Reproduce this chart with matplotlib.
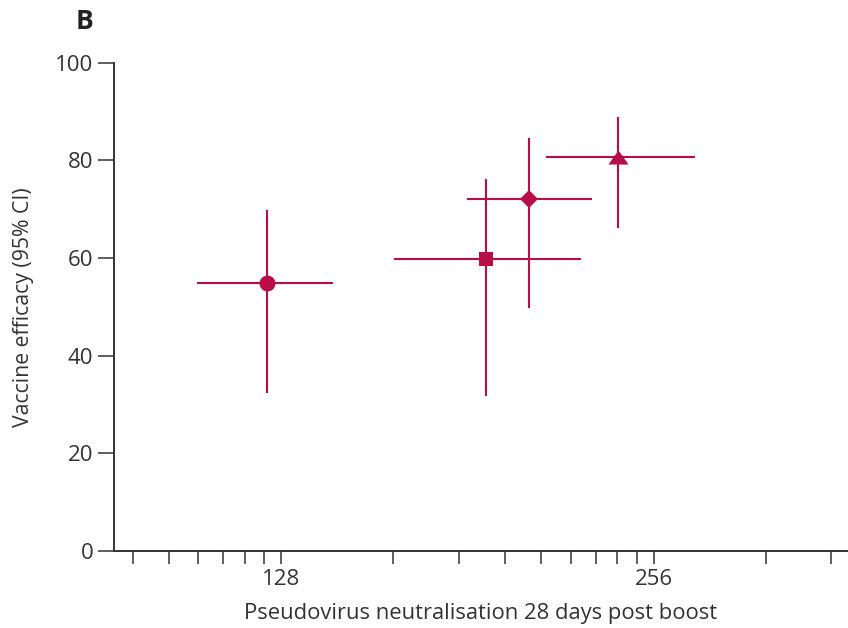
import numpy as np
import matplotlib
matplotlib.use('Agg')
import matplotlib.pyplot as plt
from matplotlib.ticker import FixedLocator, FixedFormatter, NullLocator

# Data
titre = [124.6, 187.6, 203.0, 239.6]
titre_lo = [109.4, 157.8, 180.9, 209.6]
titre_hi = [141.1, 223.5, 228.3, 276.3]
efficacy = [54.8, 59.7, 72.1, 80.7]
eff_lo = [32.4, 31.8, 49.7, 66.1]
eff_hi = [69.8, 76.2, 84.6, 88.9]

y_ticks = [0, 20, 40, 60, 80, 100]
x_tick_labels = {128: "128", 256: "256"}

color = '#B90E45'
axis_color = '#333333'
text_color = '#333333'
font = 'Open Sans'

plt.rcParams['font.family'] = [font, 'DejaVu Sans']

fig = plt.figure(figsize=(8.48, 6.28), dpi=100)
ax = fig.add_axes([114/848, 1 - 550.7/628, (848 - 114)/848, (550.7 - 62.7)/628])

tri = [(-1, -0.7), (1, -0.7), (0, 0.7), (-1, -0.7)]
marker_specs = [('o', 11.5), ('s', 10.5), ('D', 9.2), (tri, 14.5)]

ax.set_xscale('log', base=2)
ax.set_xlim(93.8, 367.6)
ax.set_ylim(0, 100)

for i, (m, ms) in enumerate(marker_specs):
    ax.errorbar(titre[i], efficacy[i],
                xerr=[[titre[i] - titre_lo[i]], [titre_hi[i] - titre[i]]],
                yerr=[[efficacy[i] - eff_lo[i]], [eff_hi[i] - efficacy[i]]],
                fmt='none', ecolor=color, elinewidth=1.5, capsize=0, zorder=2)
    ax.plot([titre[i]], [efficacy[i]], marker=m, markersize=ms, color=color,
            markeredgewidth=0, linestyle='none', zorder=3)

ax.set_xlim(93.8, 367.6)
ax.set_ylim(0, 100)

# tick marks follow a decade-style layout in the original figure
ks = list(range(40, 100, 10)) + list(range(100, 1001, 100)) + [2000, 3000]
tick_pos = [128 * 2 ** (np.log10(k) - 2) for k in ks]
labels = []
for k in ks:
    if k == 100:
        labels.append(x_tick_labels[128])
    elif k == 1000:
        labels.append(x_tick_labels[256])
    else:
        labels.append('')
ax.xaxis.set_major_locator(FixedLocator(tick_pos))
ax.xaxis.set_major_formatter(FixedFormatter(labels))
ax.xaxis.set_minor_locator(NullLocator())

ax.set_yticks(y_ticks)
ax.set_yticklabels([str(v) for v in y_ticks])

for s in ['top', 'right']:
    ax.spines[s].set_visible(False)
for s in ['left', 'bottom']:
    ax.spines[s].set_color(axis_color)
    ax.spines[s].set_linewidth(1.4)

ax.tick_params(axis='y', length=11.3, width=1.1, pad=3.6, colors=axis_color,
               labelsize=16, labelcolor=text_color)
ax.tick_params(axis='x', length=9.4, width=1.1, pad=4, colors=axis_color,
               labelsize=16, labelcolor=text_color)

ax.set_xlabel('Pseudovirus neutralisation 28 days post boost', fontsize=15.8,
              color=text_color)
ax.xaxis.set_label_coords(0.5, -0.108)
ax.set_ylabel('Vaccine efficacy (95% CI)', fontsize=15.3, color=text_color)
ax.yaxis.set_label_coords(-0.109, 0.5)

fig.text(85/848, 1 - 21.5/628, 'B', fontsize=19, fontweight='bold',
         color='#222222', ha='center', va='center')

fig.savefig('out.png', dpi=100)
